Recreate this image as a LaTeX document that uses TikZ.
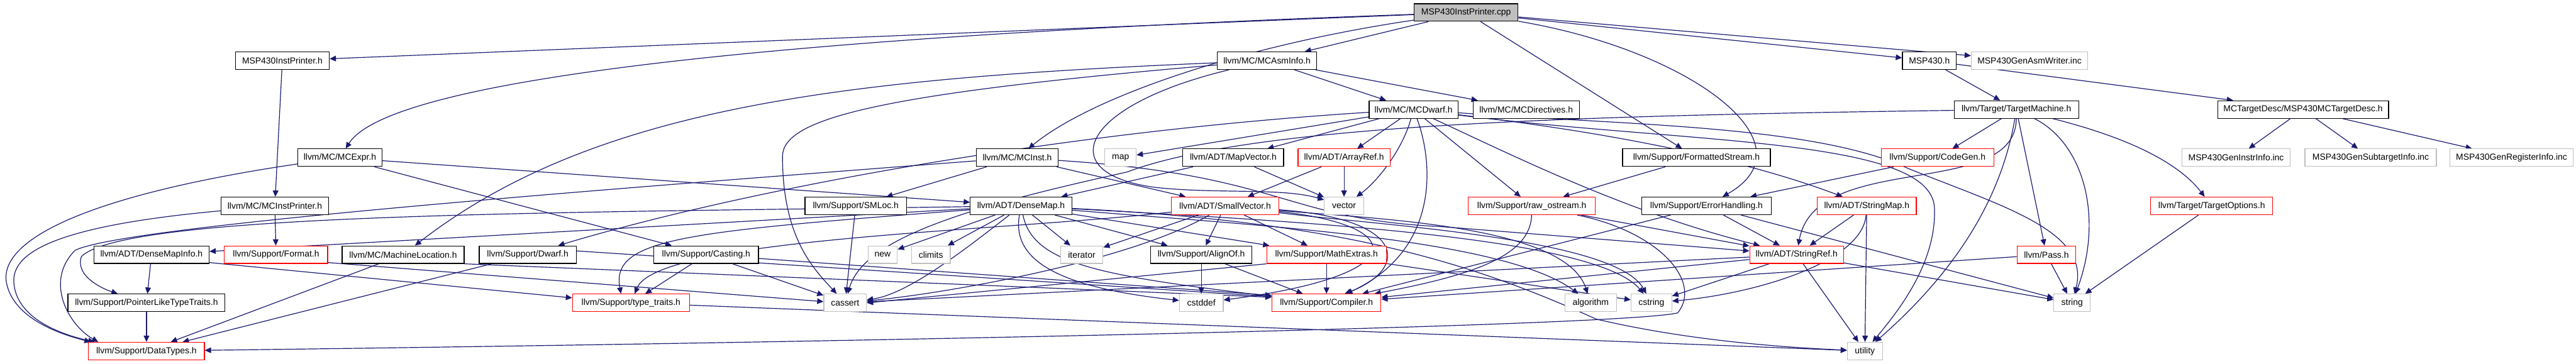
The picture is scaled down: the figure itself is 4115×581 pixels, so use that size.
\documentclass[tikz,border=0pt]{standalone}
\usepackage{fontspec}
\setmainfont{Liberation Sans}
\usetikzlibrary{arrows.meta}
\pgfdeclarelayer{background}
\pgfsetlayers{background,main}
\definecolor{edgec}{RGB}{25,25,112}
\definecolor{grayb}{RGB}{191,191,191}
\begin{document}
\begin{tikzpicture}[x=0.5pt,y=-0.5pt,
 box/.style={draw=black,line width=0.6pt,rectangle,minimum height=14pt,inner sep=0pt,font=\fontsize{7}{8}\selectfont,fill=white},
 trunc/.style={box,draw=red},
 sys/.style={box,draw=grayb},
 root/.style={box,fill=grayb},
 dep/.style={draw=edgec,line width=0.6pt,-{Triangle[length=5pt,width=4.5pt]}}]
\useasboundingbox (0,0) rectangle (4115,581);
% row 0
\node[root,minimum width=83pt] (cpp) at (2342,20) {MSP430InstPrinter.cpp};
% row 1
\node[box,minimum width=75pt] (instprh) at (451,97) {MSP430InstPrinter.h};
\node[box,minimum width=79.5pt] (asminfo) at (2024,97) {llvm/MC/MCAsmInfo.h};
\node[box,minimum width=43pt] (msp) at (3082,97) {MSP430.h};
\node[sys,minimum width=93pt] (asmwriter) at (3242,97) {MSP430GenAsmWriter.inc};
% row 2
\node[box,minimum width=71pt] (dwarfmc) at (2258,175) {llvm/MC/MCDwarf.h};
\node[box,minimum width=85pt] (directives) at (2438,175) {llvm/MC/MCDirectives.h};
\node[box,minimum width=99.5pt] (tm) at (3221,175) {llvm/Target/TargetMachine.h};
\node[box,minimum width=136.5pt] (tdesc) at (3679,175) {MCTargetDesc/MSP430MCTargetDesc.h};
% row 3
\node[box,minimum width=67pt] (expr) at (543,252) {llvm/MC/MCExpr.h};
\node[box,minimum width=65.5pt] (inst) at (1625,252) {llvm/MC/MCInst.h};
\node[sys,minimum width=25pt] (map) at (1790,252) {map};
\node[box,minimum width=80.5pt] (mapvec) at (1970,252) {llvm/ADT/MapVector.h};
\node[trunc,minimum width=73.5pt] (arrayref) at (2147,252) {llvm/ADT/ArrayRef.h};
\node[box,minimum width=118pt] (fstream) at (2710,252) {llvm/Support/FormattedStream.h};
\node[trunc,minimum width=90pt] (codegen) at (3095,252) {llvm/Support/CodeGen.h};
\node[sys,minimum width=86.5pt] (instrinfo) at (3572,252) {MSP430GenInstrInfo.inc};
\node[sys,minimum width=105pt] (subtarget) at (3787,252) {MSP430GenSubtargetInfo.inc};
\node[sys,minimum width=98.5pt] (reginfo) at (4012,252) {MSP430GenRegisterInfo.inc};
% row 4
\node[box,minimum width=86pt] (mcip) at (439,329) {llvm/MC/MCInstPrinter.h};
\node[box,minimum width=81pt] (smloc) at (1367,329) {llvm/Support/SMLoc.h};
\node[box,minimum width=81pt] (densemap) at (1631,329) {llvm/ADT/DenseMap.h};
\node[trunc,minimum width=85.5pt] (smallvec) at (1957,329) {llvm/ADT/SmallVector.h};
\node[sys,minimum width=31.5pt] (vector) at (2147,329) {vector};
\node[trunc,minimum width=101.5pt] (rawos) at (2447,329) {llvm/Support/raw\_ostream.h};
\node[box,minimum width=103.5pt] (errh) at (2726,329) {llvm/Support/ErrorHandling.h};
\node[trunc,minimum width=79pt] (strmap) at (2982,329) {llvm/ADT/StringMap.h};
\node[trunc,minimum width=97.5pt] (topts) at (3533,329) {llvm/Target/TargetOptions.h};
% row 5
\node[box,minimum width=92pt] (dmi) at (242,407) {llvm/ADT/DenseMapInfo.h};
\node[trunc,minimum width=82.5pt] (format) at (441,407) {llvm/Support/Format.h};
\node[box,minimum width=97.5pt] (mloc) at (644,407) {llvm/MC/MachineLocation.h};
\node[box,minimum width=77.5pt] (dwarf) at (843,407) {llvm/Support/Dwarf.h};
\node[box,minimum width=83.5pt] (casting) at (1128,407) {llvm/Support/Casting.h};
\node[sys,minimum width=23.5pt] (new) at (1410,407) {new};
\node[sys,minimum width=31pt] (climits) at (1487,407) {climits};
\node[sys,minimum width=34pt] (iterator) at (1728,407) {iterator};
\node[box,minimum width=81pt] (alignof) at (1919,407) {llvm/Support/AlignOf.h};
\node[trunc,minimum width=95.5pt] (mathext) at (2119,407) {llvm/Support/MathExtras.h};
\node[trunc,minimum width=75pt] (strref) at (2870,407) {llvm/ADT/StringRef.h};
\node[trunc,minimum width=47pt] (pass) at (3269,407) {llvm/Pass.h};
% row 6
\node[box,minimum width=125.5pt] (pltt) at (234,484) {llvm/Support/PointerLikeTypeTraits.h};
\node[trunc,minimum width=93.5pt] (typetr) at (1008,484) {llvm/Support/type\_traits.h};
\node[sys,minimum width=34pt] (cassert) at (1350,484) {cassert};
\node[sys,minimum width=35pt] (cstddef) at (1919,484) {cstddef};
\node[trunc,minimum width=87pt] (compiler) at (2119,484) {llvm/Support/Compiler.h};
\node[sys,minimum width=41pt] (algorithm) at (2541,484) {algorithm};
\node[sys,minimum width=32.5pt] (cstring) at (2638,484) {cstring};
\node[sys,minimum width=29pt] (string) at (3310,484) {string};
% row 7
\node[trunc,minimum width=92.5pt] (datatypes) at (234,561) {llvm/Support/DataTypes.h};
\node[sys,minimum width=28pt] (utility) at (2979,561) {utility};

\begin{pgfonlayer}{background}
% cpp
\draw[dep] (cpp) -- (instprh);
\draw[dep] (cpp) -- (asminfo);
\draw[dep] (cpp) .. controls (1200,60) and (620,130) .. (expr);
\draw[dep] (cpp) .. controls (2000,70) and (1750,150) .. (inst);
\draw[dep] (cpp) -- (fstream);
\draw[dep] (cpp) .. controls (2700,80) and (2900,230) .. (errh);
\draw[dep] (cpp) -- (msp);
\draw[dep] (cpp) -- (asmwriter);
% printer
\draw[dep] (instprh) -- (mcip);
\draw[dep] (mcip) -- (format);
\draw[dep] (mcip) .. controls (100,360) and (20,400) .. (22,450) .. controls (25,510) and (100,535) .. ([xshift=5pt]datatypes.north west);
% msp
\draw[dep] (msp) -- (tdesc);
\draw[dep] (msp) -- (tm);
\draw[dep] (tdesc) -- (instrinfo);
\draw[dep] (tdesc) -- (subtarget);
\draw[dep] (tdesc) -- (reginfo);
% asminfo
\draw[dep] (asminfo) -- (dwarfmc);
\draw[dep] (asminfo) -- (directives);
\draw[dep] (asminfo) .. controls (1350,125) and (950,170) .. (mloc);
\draw[dep] (asminfo) .. controls (1400,150) and (1250,190) .. (1250,250) .. controls (1250,380) and (1300,430) .. (cassert);
\draw[dep] (asminfo) .. controls (1720,170) and (1680,280) .. (1850,300) .. controls (1950,310) and (2050,300) .. (vector);
% expr
\draw[dep] (expr) -- (densemap);
\draw[dep] (expr) -- (casting);
\draw[dep] (expr) .. controls (150,310) and (0,380) .. (10,450) .. controls (20,510) and (100,535) .. ([xshift=2pt]datatypes.north west);
% inst
\draw[dep] (inst) -- (smloc);
\draw[dep] (inst) -- (smallvec);
\draw[dep] (inst) .. controls (2050,280) and (2050,350) .. (2300,362) -- (strref);
\draw[dep] (inst) .. controls (1000,300) and (200,360) .. (120,400) .. controls (70,450) and (110,520) .. ([xshift=8pt]datatypes.north west);
% mcdwarf
\draw[dep] (dwarfmc) -- (map);
\draw[dep] (dwarfmc) -- (mapvec);
\draw[dep] (dwarfmc) -- (arrayref);
\draw[dep] (dwarfmc) .. controls (2240,240) and (2200,290) .. (vector);
\draw[dep] (dwarfmc) .. controls (2290,260) and (2300,400) .. (compiler);
\draw[dep] (dwarfmc) -- (rawos);
\draw[dep] (dwarfmc) .. controls (2420,250) and (2600,340) .. (strref);
\draw[dep] (dwarfmc) .. controls (2600,215) and (2800,260) .. (strmap);
\draw[dep] (dwarfmc) .. controls (2600,200) and (2900,200) .. (3050,270) .. controls (3200,330) and (3340,370) .. (string);
\draw[dep] (dwarfmc) .. controls (2700,230) and (3080,220) .. (3090,330) .. controls (3095,420) and (3030,500) .. (utility);
\draw[dep] (dwarfmc) .. controls (1700,210) and (1200,300) .. (dwarf);
% target machine
\draw[dep] (tm) -- (codegen);
\draw[dep] (tm) -- (pass);
\draw[dep] (tm) .. controls (3330,230) and (3360,350) .. (string);
\draw[dep] (tm) .. controls (3400,220) and (3480,260) .. (topts);
\draw[dep] (tm) .. controls (3220,320) and (2900,240) .. (strref);
\draw[dep] (tm) .. controls (3200,300) and (3140,420) .. (utility);
\draw[dep] (tm) .. controls (2500,185) and (2000,200) .. (1800,275) .. controls (1550,330) and (1380,380) .. (cassert);
% streams / errors
\draw[dep] (fstream) -- (rawos);
\draw[dep] (errh) -- (compiler);
\draw[dep] (errh) -- (strref);
\draw[dep] (errh) -- (string);
\draw[dep] (codegen) -- (errh);
\draw[dep] (rawos) .. controls (2445,410) and (2350,440) .. (compiler);
\draw[dep] (rawos) -- (strref);
\draw[dep] (rawos) .. controls (2650,370) and (2720,450) .. (2680,500) .. controls (2600,520) and (1500,545) .. (datatypes);
\draw[dep] (strmap) -- (strref);
\draw[dep] (strmap) -- (utility);
\draw[dep] (strmap) .. controls (2975,420) and (2800,470) .. (cstring);
\draw[dep] (strref) -- (utility);
\draw[dep] (strref) -- (string);
\draw[dep] (strref) -- (cstring);
\draw[dep] (strref) -- (compiler);
\draw[dep] (strref) -- (cassert);
\draw[dep] (pass) -- (compiler);
\draw[dep] (pass) -- (string);
\draw[dep] (topts) -- (string);
% mapvector / arrayref
\draw[dep] (mapvec) -- (densemap);
\draw[dep] (mapvec) -- (vector);
\draw[dep] (arrayref) -- (smallvec);
\draw[dep] (arrayref) -- (vector);
% densemap
\draw[dep] (densemap) -- (dmi);
\draw[dep] (densemap) .. controls (900,340) and (200,340) .. (130,410) .. controls (120,440) and (160,460) .. ([xshift=-23pt]pltt.north);
\draw[dep] (densemap) .. controls (1100,370) and (975,380) .. ([xshift=-8pt]typetr.north);
\draw[dep] (densemap) -- (new);
\draw[dep] (densemap) -- (climits);
\draw[dep] (densemap) -- (iterator);
\draw[dep] (densemap) -- (alignof);
\draw[dep] (densemap) -- (mathext);
\draw[dep] (densemap) .. controls (1615,420) and (1700,460) .. (cstddef);
\draw[dep] (densemap) .. controls (1650,420) and (1750,440) .. (compiler);
\draw[dep] (densemap) .. controls (2000,360) and (2400,380) .. (algorithm);
\draw[dep] (densemap) .. controls (2100,355) and (2550,380) .. (cstring);
\draw[dep] (densemap) .. controls (1540,400) and (1450,470) .. (cassert);
\draw[dep] (densemap) .. controls (2150,355) and (2350,420) .. (2550,510) .. controls (2700,545) and (2850,555) .. (utility);
% smallvector
\draw[dep] (smallvec) -- (iterator);
\draw[dep] (smallvec) -- (alignof);
\draw[dep] (smallvec) -- (mathext);
\draw[dep] (smallvec) .. controls (2250,360) and (2260,440) .. (cstddef);
\draw[dep] (smallvec) .. controls (2250,350) and (2250,430) .. ([xshift=14.5pt]compiler.north);
\draw[dep] (smallvec) .. controls (1600,370) and (1050,380) .. (typetr);
\draw[dep] (smallvec) .. controls (1800,420) and (1500,470) .. (cassert);
\draw[dep] (smallvec) .. controls (2200,350) and (2500,360) .. (algorithm);
\draw[dep] (smallvec) .. controls (2200,360) and (2580,380) .. (cstring);
% others
\draw[dep] (casting) -- (typetr);
\draw[dep] (casting) -- (cassert);
\draw[dep] ([yshift=-3pt]casting.east) -- ([yshift=6pt]compiler.west);
\draw[dep] (dmi) -- (pltt);
\draw[dep] ([yshift=1pt]dmi.south east) -- ([yshift=4pt]typetr.west);
\draw[dep] ([yshift=1pt]format.south east) -- ([yshift=1pt]cassert.west);
\draw[dep] (mloc) -- (datatypes);
\draw[dep] (mloc.south east) -- ([yshift=4.5pt]compiler.west);
\draw[dep] (dwarf) -- (datatypes);
\draw[dep] ([yshift=3pt]dwarf.east) -- ([yshift=5pt]compiler.west);
\draw[dep] (smloc) -- (cassert);
\draw[dep] (alignof) -- (cstddef);
\draw[dep] (alignof) -- (compiler);
\draw[dep] (mathext) -- (compiler);
\draw[dep] (mathext) -- (cstring);
\draw[dep] (mathext.south west) -- (cassert.east);
\draw[dep] (pltt) -- (datatypes);
\draw[dep] (typetr) -- (utility);
\end{pgfonlayer}
\end{tikzpicture}
\end{document}
